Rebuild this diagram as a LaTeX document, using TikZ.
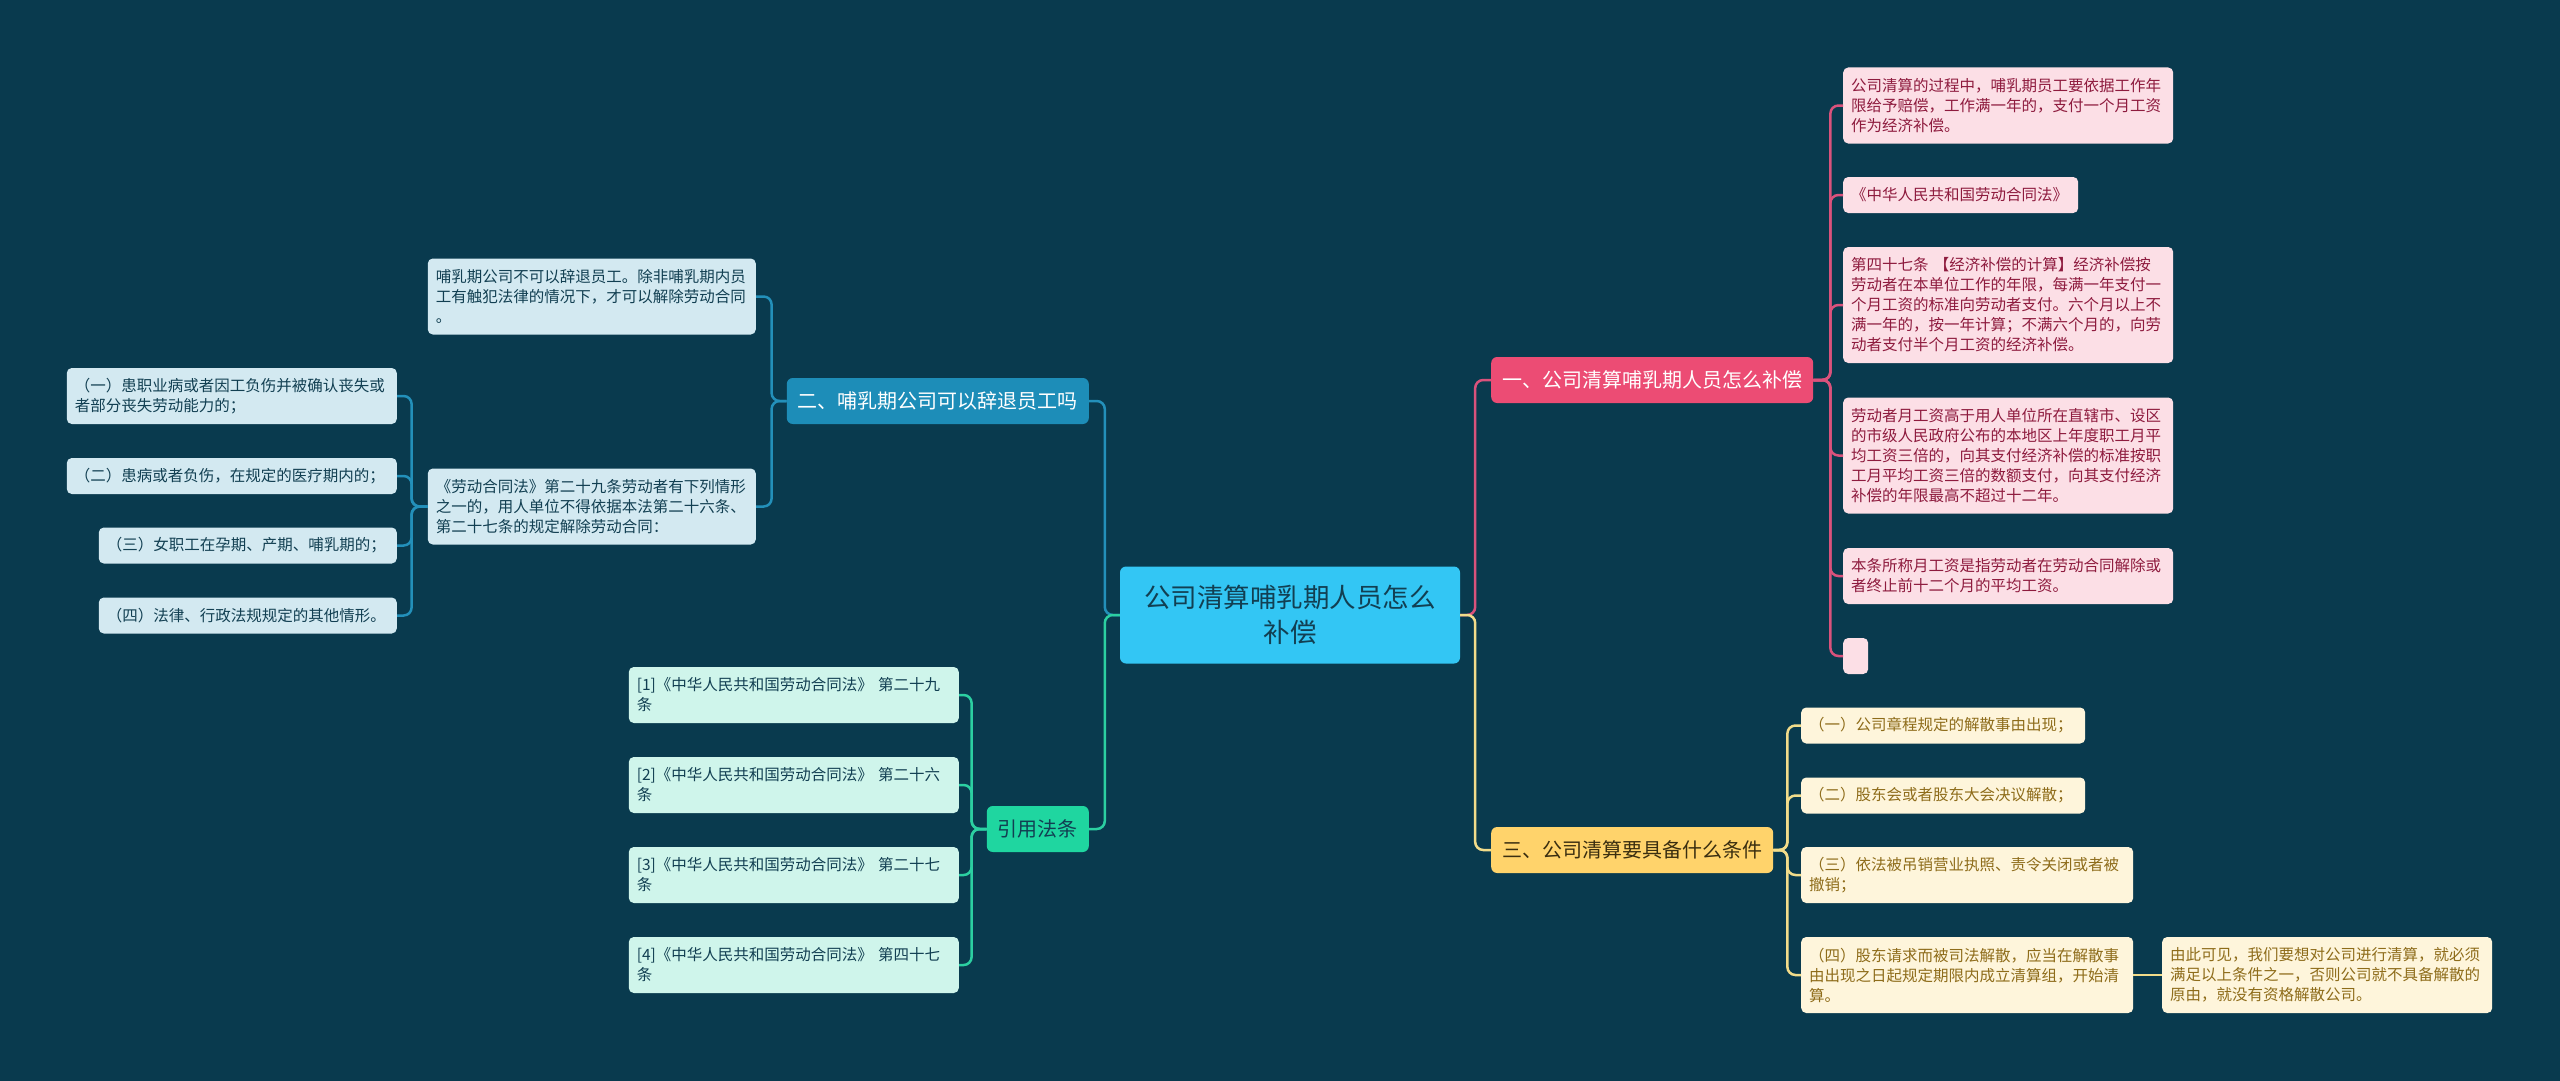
\documentclass[tikz,border=0pt]{standalone}
\usepackage{fontspec}
\setmainfont{Noto Sans CJK SC}
\usepackage{xcolor}
\usepackage{tikz}
\usetikzlibrary{calc}
\usetikzlibrary{positioning}

\definecolor{bgcol}{HTML}{093A4E}
\definecolor{inkdark}{HTML}{123F52}
\definecolor{inkbrown}{HTML}{3A2E10}
\definecolor{rootfill}{HTML}{33C6F4}
\definecolor{pinkmain}{HTML}{EC4C74}
\definecolor{pinkpale}{HTML}{FCDFE6}
\definecolor{pinkdark}{HTML}{8E1B3E}
\definecolor{pinkline}{HTML}{DA527C}
\definecolor{goldmain}{HTML}{FFD36B}
\definecolor{goldpale}{HTML}{FEF5DB}
\definecolor{golddark}{HTML}{8E6C1A}
\definecolor{goldline}{HTML}{F2DC8A}
\definecolor{bluemain}{HTML}{1D8DB8}
\definecolor{bluepale}{HTML}{D3E9F1}
\definecolor{blueline}{HTML}{2390BA}
\definecolor{mintmain}{HTML}{1FD6A0}
\definecolor{mintpale}{HTML}{CFF5EB}
\definecolor{mintline}{HTML}{2CCFA1}

\begin{document}
\begin{tikzpicture}[x=1pt,y=-1pt,
	leaf/.style={rounded corners=5pt,inner xsep=8pt,inner ysep=0pt,align=left,font=\fontsize{15.5}{20}\selectfont},
	pinkleaf/.style={leaf,fill=pinkpale,text=pinkdark,anchor=west},
	goldleaf/.style={leaf,fill=goldpale,text=golddark,anchor=west},
	blueleaf/.style={leaf,fill=bluepale,text=inkdark,anchor=east},
	mintleaf/.style={leaf,fill=mintpale,text=inkdark,anchor=east},
	branch/.style={rounded corners=6pt,inner xsep=11pt,inner ysep=0pt,minimum height=46pt,font=\fontsize{20}{24}\selectfont},
	link/.style={line width=2.5pt,rounded corners=8pt}]
		  \fill[bgcol] (0,0) rectangle (2560,1081);
		  \useasboundingbox (0,0) rectangle (2560,1081);
		  \node[rounded corners=6pt,fill=rootfill,text=inkdark,text width=320pt,inner xsep=10pt,align=center,minimum height=97pt,font=\fontsize{26.5}{35}\selectfont] (root) at (1290,615) {公司清算哺乳期人员怎么\\补偿};
		  \node[branch,fill=pinkmain,text=white,anchor=west] (b1) at (1491,380) {一、公司清算哺乳期人员怎么补偿};
		  \node[branch,fill=goldmain,text=inkbrown,anchor=west] (b3) at (1491,850) {三、公司清算要具备什么条件};
		  \node[branch,fill=bluemain,text=white,anchor=east] (b2) at (1089,401) {二、哺乳期公司可以辞退员工吗};
		  \node[branch,fill=mintmain,text=inkdark,anchor=east] (b4) at (1089,829) {引用法条};
		  \draw[link,blueline] (root.west) -- ++(-15,0) |- (b2.east);
		  \draw[link,mintline] (root.west) -- ++(-15,0) |- (b4.east);
		  \draw[link,pinkline] (root.east) -- ++(15,0) |- (b1.west);
		  \draw[link,goldline] (root.east) -- ++(15,0) |- (b3.west);
		  \foreach \y/\h/\tw/\nm/\txt in {
		  		105.5/76/314/c1/{公司清算的过程中，哺乳期员工要依据工作年\\限给予赔偿，工作满一年的，支付一个月工资\\作为经济补偿。},
		  		195/36/219/c2/{《中华人民共和国劳动合同法》},
		  		305/116/314/c3/{第四十七条~【经济补偿的计算】经济补偿按\\劳动者在本单位工作的年限，每满一年支付一\\个月工资的标准向劳动者支付。六个月以上不\\满一年的，按一年计算；不满六个月的，向劳\\动者支付半个月工资的经济补偿。},
		  		455.5/116/314/c4/{劳动者月工资高于用人单位所在直辖市、设区\\的市级人民政府公布的本地区上年度职工月平\\均工资三倍的，向其支付经济补偿的标准按职\\工月平均工资三倍的数额支付，向其支付经济\\补偿的年限最高不超过十二年。},
		  		576/56/314/c5/{本条所称月工资是指劳动者在劳动合同解除或\\者终止前十二个月的平均工资。}
		  }{
		  	\node[pinkleaf,text width=\tw pt,minimum height=\h pt] (\nm) at (1843,\y) {\txt};
		  	\draw[link,pinkline] (b1.east) -- ++(17,0) |- (\nm.west);
		  }
		  \node[pinkleaf,inner sep=0pt,minimum width=25pt,minimum height=36pt] (c6) at (1843,656) {};
		  \draw[link,pinkline] (b1.east) -- ++(17,0) |- (c6.west);
		  \foreach \y/\h/\tw/\nm/\txt in {
		  		725.5/36/268/d1/{（一）公司章程规定的解散事由出现；},
		  		795.5/36/268/d2/{（二）股东会或者股东大会决议解散；},
		  		875/56/316/d3/{（三）依法被吊销营业执照、责令关闭或者被\\撤销；},
		  		975/76/316/d4/{（四）股东请求而被司法解散，应当在解散事\\由出现之日起规定期限内成立清算组，开始清\\算。}
		  }{
		  	\node[goldleaf,text width=\tw pt,minimum height=\h pt] (\nm) at (1801,\y) {\txt};
		  	\draw[link,goldline] (b3.east) -- ++(14,0) |- (\nm.west);
		  }
		  \node[goldleaf,text width=314pt,minimum height=76pt] (d5) at (2162,975) {由此可见，我们要想对公司进行清算，就必须\\满足以上条件之一，否则公司就不具备解散的\\原由，就没有资格解散公司。};
		  \draw[link,goldline] (d4.east) -- (d5.west);
		  \foreach \y/\nm/\txt in {
		  		296.5/e1/{哺乳期公司不可以辞退员工。除非哺乳期内员\\工有触犯法律的情况下，才可以解除劳动合同\\。},
		  		506.5/e2/{《劳动合同法》第二十九条劳动者有下列情形\\之一的，用人单位不得依据本法第二十六条、\\第二十七条的规定解除劳动合同：}
		  }{
		  	\node[blueleaf,text width=312pt,minimum height=76pt] (\nm) at (756,\y) {\txt};
		  	\draw[link,blueline] (b2.west) -- ++(-15,0) |- (\nm.east);
		  }
		  \foreach \y/\h/\tw/\nm/\txt in {
		  		396/56/314/f1/{（一）患职业病或者因工负伤并被确认丧失或\\者部分丧失劳动能力的；},
		  		476/36/314/f2/{（二）患病或者负伤，在规定的医疗期内的；},
		  		545.5/36/282/f3/{（三）女职工在孕期、产期、哺乳期的；},
		  		615.5/36/282/f4/{（四）法律、行政法规规定的其他情形。}
		  }{
		  	\node[blueleaf,text width=\tw pt,minimum height=\h pt] (\nm) at (397,\y) {\txt};
		  	\draw[link,blueline] (e2.west) -- ++(-16,0) |- (\nm.east);
		  }
		  \foreach \y/\nm/\num/\art in {
		  		695/g1/1/二十九,
		  		785/g2/2/二十六,
		  		875/g3/3/二十七,
		  		965/g4/4/四十七
		  }{
		  	\node[mintleaf,text width=314pt,minimum height=56pt] (\nm) at (959,\y) {[\num]《中华人民共和国劳动合同法》~第\art\\条};
		  	\draw[link,mintline] (b4.west) -- ++(-15,0) |- (\nm.east);
		  }
\end{tikzpicture}
\end{document}
